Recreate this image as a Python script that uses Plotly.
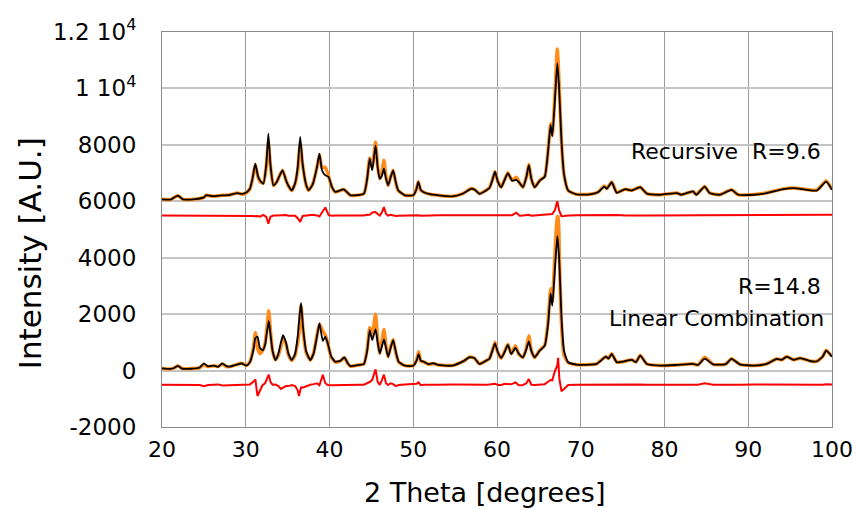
import plotly.graph_objects as go

# ---------------- data ----------------
# Upper pattern ("Recursive"), values relative to its 6000 offset
x_top = [20.0, 21.0, 21.9, 22.5, 24.0, 25.0, 25.3, 26.0, 27.2, 28.0,
         29.0, 29.6, 30.1, 30.5, 30.8, 31.14, 31.45, 31.7, 32.1, 32.45,
         32.7, 32.95, 33.3, 33.7, 34.1, 34.4, 34.8, 35.1, 35.5, 35.9,
         36.2, 36.5, 36.8, 37.2, 37.5, 38.0, 38.5, 38.8, 39.1, 39.5,
         39.9, 40.3, 40.7, 41.7, 42.5, 44.1, 44.5, 44.8, 45.1, 45.5,
         45.75, 46.0, 46.25, 46.5, 46.75, 47.0, 47.3, 47.6, 47.9, 48.2,
         49.0, 50.0, 50.35, 50.6, 50.9, 51.2, 52.0, 53.05, 54.7, 55.9,
         56.9, 57.3, 57.9, 58.7, 59.1, 59.45, 59.76, 60.1, 60.5, 60.9,
         61.3, 61.8, 62.3, 62.7, 63.1, 63.5, 63.8, 64.1, 64.5, 65.1,
         65.7, 66.1, 66.4, 66.6, 66.9, 67.2, 67.4, 67.7, 68.0, 68.5,
         69.5, 71.1, 72.1, 72.8, 73.1, 73.7, 74.3, 75.3, 76.1, 77.1,
         77.9, 79.5, 81.5, 82.0, 83.4, 83.8, 84.8, 85.4, 86.6, 88.0,
         88.8, 90.7, 92.2, 94.2, 95.4, 97.0, 98.2, 99.3, 100.0]
calc_top = [71, 60, 200, 70, 80, 140, 220, 180, 210, 220,
            290, 260, 320, 450, 800, 1334, 900, 744, 626, 1300,
            2396, 1300, 567, 685, 950, 1098, 744, 550, 390, 650,
            1200, 2278, 1300, 600, 390, 600, 1200, 1688, 1100, 921,
            862, 500, 331, 425, 213, 272, 800, 1511, 1098, 1983,
            1200, 803, 900, 1157, 800, 567, 850, 1098, 700, 390,
            213, 213, 400, 685, 400, 331, 250, 209, 174, 267,
            442, 419, 267, 384, 470, 750, 1047, 700, 500, 750,
            1000, 733, 756, 650, 500, 850, 1279, 800, 500, 733,
            872, 1779, 2710, 2303, 3524, 4896, 4105, 2128, 965, 384,
            244, 244, 326, 523, 442, 674, 300, 429, 380, 499,
            270, 232, 290, 232, 348, 232, 522, 290, 232, 406,
            232, 232, 290, 429, 464, 406, 383, 696, 406]
obs_top = [71, 60, 200, 70, 80, 140, 215, 180, 210, 220,
           290, 250, 310, 440, 780, 1300, 880, 700, 640, 1250,
           2100, 1250, 560, 680, 950, 1100, 760, 540, 380, 640,
           1100, 2050, 1280, 590, 390, 620, 1200, 1650, 1200, 1200,
           870, 490, 330, 420, 210, 270, 820, 1530, 1200, 2100,
           1250, 800, 1000, 1452, 850, 560, 870, 1100, 680, 380,
           213, 215, 410, 690, 390, 330, 250, 210, 175, 270,
           450, 420, 270, 390, 480, 760, 1060, 700, 500, 760,
           1010, 740, 850, 640, 500, 860, 1300, 790, 500, 740,
           880, 1800, 2750, 2350, 3700, 5400, 4300, 2100, 940, 380,
           245, 250, 330, 545, 450, 684, 313, 429, 390, 499,
           270, 232, 290, 232, 348, 240, 522, 290, 232, 406,
           232, 240, 300, 440, 470, 420, 400, 720, 430]

# Lower pattern ("Linear Combination")
x_bot = [20.0, 21.0, 21.5, 21.9, 22.4, 23.5, 24.5, 25.0, 25.5, 26.2,
         26.7, 27.2, 27.7, 28.1, 28.8, 29.5, 30.1, 30.5, 30.9, 31.15,
         31.4, 31.7, 32.0, 32.3, 32.55, 32.75, 32.95, 33.2, 33.55, 33.9,
         34.2, 34.45, 34.8, 35.1, 35.5, 35.9, 36.2, 36.35, 36.6, 36.85,
         37.2, 37.7, 38.1, 38.5, 38.8, 39.2, 39.5, 39.8, 40.2, 40.7,
         41.3, 41.77, 42.2, 42.5, 43.5, 44.1, 44.5, 44.8, 45.1, 45.5,
         45.75, 46.0, 46.25, 46.5, 46.75, 47.0, 47.3, 47.6, 47.9, 48.26,
         49.0, 50.0, 50.4, 50.65, 50.9, 51.25, 51.8, 52.4, 53.0, 54.7,
         56.1, 56.7, 57.3, 57.9, 58.7, 59.1, 59.45, 59.76, 60.1, 60.5,
         60.9, 61.3, 61.7, 62.2, 62.6, 63.1, 63.5, 63.8, 64.1, 64.5,
         65.1, 65.7, 66.1, 66.4, 66.6, 66.9, 67.2, 67.3, 67.45, 67.7,
         68.0, 68.5, 69.5, 71.1, 71.9, 72.4, 73.0, 73.3, 73.7, 74.3,
         75.1, 76.1, 76.6, 77.1, 77.9, 79.5, 81.5, 83.4, 84.0, 84.8,
         85.8, 87.3, 88.0, 89.0, 90.7, 92.2, 93.4, 94.0, 94.6, 95.4,
         96.2, 97.5, 98.2, 98.9, 99.3, 100.0]
calc_bot = [77, 60, 100, 170, 70, 65, 110, 255, 150, 175,
            130, 255, 160, 140, 200, 250, 175, 300, 700, 1150,
            1200, 800, 720, 900, 1400, 1764, 1300, 700, 372, 600,
            1000, 1257, 1000, 600, 372, 600, 1200, 1700, 2401, 1500,
            700, 372, 600, 1200, 1670, 1050, 1198, 960, 500, 313,
            350, 466, 250, 159, 200, 230, 700, 1434, 1080, 1457,
            1000, 608, 850, 1103, 800, 490, 800, 1080, 700, 313,
            172, 172, 350, 584, 350, 313, 230, 260, 200, 176,
            353, 470, 447, 235, 353, 420, 700, 964, 650, 447,
            650, 906, 588, 800, 600, 470, 750, 1035, 700, 470,
            706, 882, 1647, 2736, 2296, 3528, 4766, 4500, 3800, 1882,
            706, 294, 212, 212, 236, 350, 496, 420, 590, 295,
            320, 378, 300, 531, 230, 177, 200, 236, 200, 420,
            220, 230, 413, 220, 177, 240, 413, 380, 496, 380,
            440, 330, 330, 500, 708, 496]
obs_bot = [77, 60, 100, 175, 70, 70, 100, 200, 140, 175,
           140, 230, 140, 140, 200, 260, 180, 310, 800, 1340,
           800, 600, 700, 950, 1600, 2118, 1400, 700, 380, 550,
           850, 1150, 950, 550, 360, 550, 1000, 1300, 2300, 1400,
           650, 370, 620, 1250, 1650, 1400, 1250, 950, 480, 300,
           340, 460, 240, 150, 200, 230, 750, 1528, 1250, 2000,
           1100, 600, 1000, 1457, 850, 480, 850, 1100, 650, 300,
           175, 180, 380, 667, 330, 310, 220, 250, 200, 180,
           350, 480, 440, 240, 350, 430, 720, 1000, 640, 440,
           680, 930, 600, 880, 580, 460, 800, 1235, 700, 460,
           720, 900, 1750, 2900, 2450, 4000, 5450, 5450, 4000, 1650,
           550, 280, 210, 215, 240, 360, 500, 430, 600, 300,
           320, 380, 300, 540, 230, 180, 200, 240, 200, 472,
           220, 230, 420, 220, 180, 240, 420, 380, 500, 380,
           440, 330, 330, 500, 720, 500]

top_offset = 6000
top_diff_offset = 5500
bot_diff_offset = -500

x_ticks = [20, 30, 40, 50, 60, 70, 80, 90, 100]
y_ticks = [-2000, 0, 2000, 4000, 6000, 8000, 10000, 12000]
y_tick_text = ["-2000", "0", "2000", "4000", "6000", "8000",
               "1 10<sup>4</sup>", "1.2 10<sup>4</sup>"]

# ---------------- figure ----------------
ORANGE = "#FF8C1A"
FONT = "DejaVu Sans"

fig = go.Figure()

def add_panel(x, obs, calc, off, doff):
    fig.add_trace(go.Scatter(x=x, y=[v + off for v in obs], mode="lines",
                             line=dict(color=ORANGE, width=3.5, shape="spline", smoothing=0.5),
                             hoverinfo="skip"))
    fig.add_trace(go.Scatter(x=x, y=[v + off for v in calc], mode="lines",
                             line=dict(color="black", width=1.8, shape="spline", smoothing=0.5),
                             hoverinfo="skip"))
    fig.add_trace(go.Scatter(x=x, y=[o - c + doff for o, c in zip(obs, calc)], mode="lines",
                             line=dict(color="#FF0000", width=2.0), hoverinfo="skip"))

add_panel(x_top, obs_top, calc_top, top_offset, top_diff_offset)
add_panel(x_bot, obs_bot, calc_bot, 0, bot_diff_offset)

fig.update_layout(
    width=857, height=510,
    margin=dict(l=162, r=25, t=32, b=83),
    plot_bgcolor="white", paper_bgcolor="white",
    showlegend=False,
    font=dict(family=FONT, color="black"),
    xaxis=dict(range=[20, 100], tickvals=x_ticks, showgrid=True, automargin=False,
               gridcolor="#9a9a9a", gridwidth=1, showline=True,
               linecolor="#8a8a8a", linewidth=1, mirror=True, ticks="",
               zeroline=False, tickfont=dict(size=22, family=FONT, color="black"),
               ticklabelstandoff=3),
    yaxis=dict(range=[-2000, 12000], tickvals=y_ticks, ticktext=y_tick_text,
               showgrid=True, automargin=False, gridcolor="#c4c4c4", gridwidth=1.5,
               showline=True, linecolor="#8a8a8a", linewidth=1, mirror=True, ticks="",
               zeroline=False, tickfont=dict(size=23, family=FONT, color="black"),
               ticklabelstandoff=20),
)

annots = [
    dict(text="2 Theta [degrees]", xref="paper", yref="paper", x=0.4806, y=-0.167,
         xanchor="center", yanchor="middle", showarrow=False,
         font=dict(size=27, family=FONT, color="black")),
    dict(text="Intensity [A.U.]", xref="paper", yref="paper", x=-0.197, y=0.44,
         xanchor="center", yanchor="middle", textangle=-90, showarrow=False,
         font=dict(size=31, family=FONT, color="black")),
    dict(text="Recursive  R=9.6", xref="x", yref="y", x=98.9, y=7770,
         xanchor="right", yanchor="middle", showarrow=False,
         font=dict(size=22, family=FONT, color="black")),
    dict(text="R=14.8", xref="x", yref="y", x=98.9, y=2967,
         xanchor="right", yanchor="middle", showarrow=False,
         font=dict(size=22, family=FONT, color="black")),
    dict(text="Linear Combination", xref="x", yref="y", x=99.3, y=1848,
         xanchor="right", yanchor="middle", showarrow=False,
         font=dict(size=22, family=FONT, color="black")),
]
fig.update_layout(annotations=annots)

fig.write_html("out.html", config={"displayModeBar": False},
               post_script="document.body.style.margin='0';")
